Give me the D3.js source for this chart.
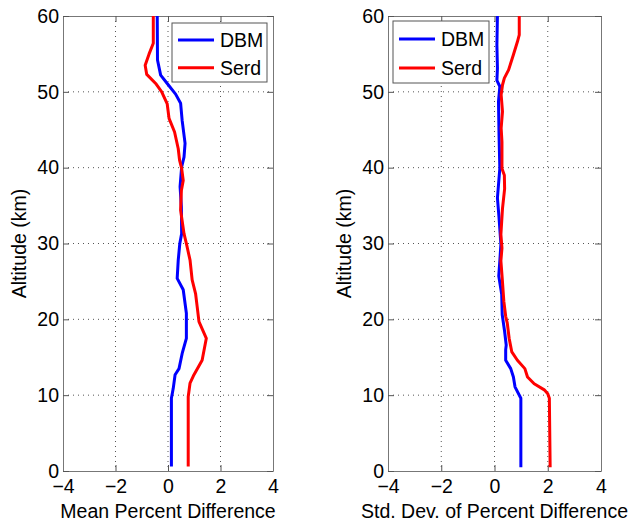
<!DOCTYPE html>
<html>
<head>
<meta charset="utf-8">
<script src="https://cdn.jsdelivr.net/npm/d3@7"></script>
<style>
  html, body { margin: 0; padding: 0; background: #fff; }
  svg { display: block; font-family: "Liberation Sans", Arial, sans-serif; }
</style>
</head>
<body>
<svg id="chart" width="632" height="525"></svg>
<script>
// Altitude profiles (km) and percent-difference values per series
const meanDbmAlt  = [0.6, 9.6, 10.9, 12.7, 13.5, 15.5, 17.5, 20.8, 23.9, 25.4, 27.8, 30, 31.3, 34.8, 37.5, 40.1, 41.4, 43.2, 46.2, 48.5, 49.7, 51.1, 52.2, 54.2, 60];
const meanDbmVal  = [0.13, 0.13, 0.20, 0.27, 0.42, 0.54, 0.70, 0.70, 0.58, 0.35, 0.39, 0.45, 0.52, 0.51, 0.46, 0.52, 0.61, 0.65, 0.54, 0.48, 0.29, -0.03, -0.28, -0.40, -0.41];

const meanSerdAlt = [0.6, 9.8, 11.6, 12.7, 14.6, 17.5, 19.7, 21.7, 23.4, 25.2, 27.8, 30, 31.3, 34.4, 37, 38.3, 39.9, 41, 42.5, 44.7, 46.5, 48.4, 50, 51.1, 52.3, 53.5, 55, 56.4, 60];
const meanSerdVal = [0.77, 0.77, 0.84, 0.99, 1.30, 1.46, 1.18, 1.11, 1.05, 0.92, 0.84, 0.70, 0.61, 0.48, 0.51, 0.58, 0.52, 0.44, 0.39, 0.25, 0.04, -0.03, -0.24, -0.47, -0.81, -0.87, -0.72, -0.56, -0.56];

const sdDbmAlt    = [0.5, 9.6, 11.1, 12.4, 13.5, 14.6, 16, 16.6, 18.4, 20.6, 23.3, 25.7, 27.7, 29.9, 33.4, 36, 39.9, 44.3, 48.7, 50.7, 51.5, 53.1, 56.2, 60];
const sdDbmVal    = [0.99, 0.99, 0.77, 0.71, 0.61, 0.42, 0.42, 0.44, 0.38, 0.29, 0.27, 0.16, 0.20, 0.24, 0.17, 0.11, 0.20, 0.17, 0.15, 0.20, 0.09, 0.11, 0.09, 0.11];

const sdSerdAlt   = [0.5, 9.6, 10.2, 10.7, 11.5, 12.4, 13.5, 14.6, 15.7, 17.5, 19.5, 20.4, 22.4, 25.4, 27.7, 29.4, 31.2, 34.6, 37.2, 39, 39.9, 43.4, 45.2, 47.4, 49.6, 50.9, 51.8, 52.9, 54.9, 56.6, 57.5, 60];
const sdSerdVal   = [2.09, 2.06, 2.00, 1.87, 1.49, 1.24, 1.14, 0.86, 0.65, 0.55, 0.48, 0.42, 0.35, 0.29, 0.24, 0.28, 0.24, 0.30, 0.38, 0.37, 0.28, 0.28, 0.25, 0.30, 0.25, 0.30, 0.37, 0.53, 0.71, 0.86, 0.93, 0.93];

const xTicks = [-4, -2, 0, 2, 4];
const yTicks = [0, 10, 20, 30, 40, 50, 60];
const seriesNames = ["DBM", "Serd"];
const seriesColors = ["#0000ff", "#ff0000"];

const svg = d3.select("#chart");

const panels = [
  { left: 63, right: 273, top: 16, bottom: 471, xLabel: "Mean Percent Difference",
    series: [[meanDbmAlt, meanDbmVal], [meanSerdAlt, meanSerdVal]],
    legend: { x: 172, y: 23, w: 95, h: 59 }, yLabelX: 26 },
  { left: 388, right: 601, top: 16, bottom: 471, xLabel: "Std. Dev. of Percent Difference",
    series: [[sdDbmAlt, sdDbmVal], [sdSerdAlt, sdSerdVal]],
    legend: { x: 393, y: 21, w: 96, h: 62 }, yLabelX: 351 }
];

panels.forEach(p => {
  const x = d3.scaleLinear().domain([-4, 4]).range([p.left, p.right]);
  const y = d3.scaleLinear().domain([0, 60]).range([p.bottom, p.top]);
  const g = svg.append("g");

  // dotted grid at interior ticks
  g.append("g").selectAll("line")
    .data(xTicks.slice(1, -1)).join("line")
    .attr("x1", d => x(d)).attr("x2", d => x(d))
    .attr("y1", p.top).attr("y2", p.bottom)
    .attr("stroke", "#555").attr("stroke-width", 1).attr("stroke-dasharray", "1,4");
  g.append("g").selectAll("line")
    .data(yTicks.slice(1, -1)).join("line")
    .attr("x1", p.left).attr("x2", p.right)
    .attr("y1", d => y(d)).attr("y2", d => y(d))
    .attr("stroke", "#555").attr("stroke-width", 1).attr("stroke-dasharray", "1,4");

  // axes with inward ticks on all four sides
  const styleAxis = sel => {
    sel.select(".domain").attr("stroke", "#777");
    sel.selectAll(".tick line").attr("stroke", "#555");
    sel.selectAll("text").attr("fill", "#000").attr("font-size", "19.5px")
      .attr("font-family", "Liberation Sans, Arial, sans-serif");
  };
  g.append("g").attr("transform", `translate(0,${p.bottom})`)
    .call(d3.axisBottom(x).tickValues(xTicks).tickSizeInner(-6).tickSizeOuter(0).tickPadding(8))
    .call(styleAxis);
  g.append("g").attr("transform", `translate(0,${p.top})`)
    .call(d3.axisTop(x).tickValues(xTicks).tickSizeInner(-6).tickSizeOuter(0).tickFormat(""))
    .call(styleAxis);
  g.append("g").attr("transform", `translate(${p.left},0)`)
    .call(d3.axisLeft(y).tickValues(yTicks).tickSizeInner(-6).tickSizeOuter(0).tickPadding(4))
    .call(styleAxis);
  g.append("g").attr("transform", `translate(${p.right},0)`)
    .call(d3.axisRight(y).tickValues(yTicks).tickSizeInner(-6).tickSizeOuter(0).tickFormat(""))
    .call(styleAxis);
  g.selectAll(".tick text").attr("font-size", "19.5px");

  // profile lines
  const line = d3.line().x(d => x(d[1])).y(d => y(d[0]));
  p.series.forEach((s, i) => {
    const pts = s[0].map((a, k) => [a, s[1][k]]);
    g.append("path").datum(pts)
      .attr("d", line)
      .attr("fill", "none")
      .attr("stroke", seriesColors[i])
      .attr("stroke-width", 3)
      .attr("stroke-linejoin", "round");
  });

  // axis titles
  g.append("text")
    .attr("x", (p.left + p.right) / 2).attr("y", 518)
    .attr("text-anchor", "middle").attr("font-size", "19.5px")
    .text(p.xLabel);
  g.append("text")
    .attr("transform", `translate(${p.yLabelX},${(p.top + p.bottom) / 2}) rotate(-90)`)
    .attr("text-anchor", "middle").attr("font-size", "19.5px")
    .text("Altitude (km)");

  // legend
  const L = p.legend;
  const lg = g.append("g").attr("transform", `translate(${L.x},${L.y})`);
  lg.append("rect").attr("width", L.w).attr("height", L.h)
    .attr("fill", "#fff").attr("stroke", "#555").attr("stroke-width", 1);
  seriesNames.forEach((name, i) => {
    const cy = L.h * (i === 0 ? 0.29 : 0.76);
    lg.append("line").attr("x1", 6).attr("x2", 42).attr("y1", cy).attr("y2", cy)
      .attr("stroke", seriesColors[i]).attr("stroke-width", 3);
    lg.append("text").attr("x", 48).attr("y", cy).attr("dy", "0.36em")
      .attr("font-size", "19.5px").text(name);
  });
});
</script>
</body>
</html>
